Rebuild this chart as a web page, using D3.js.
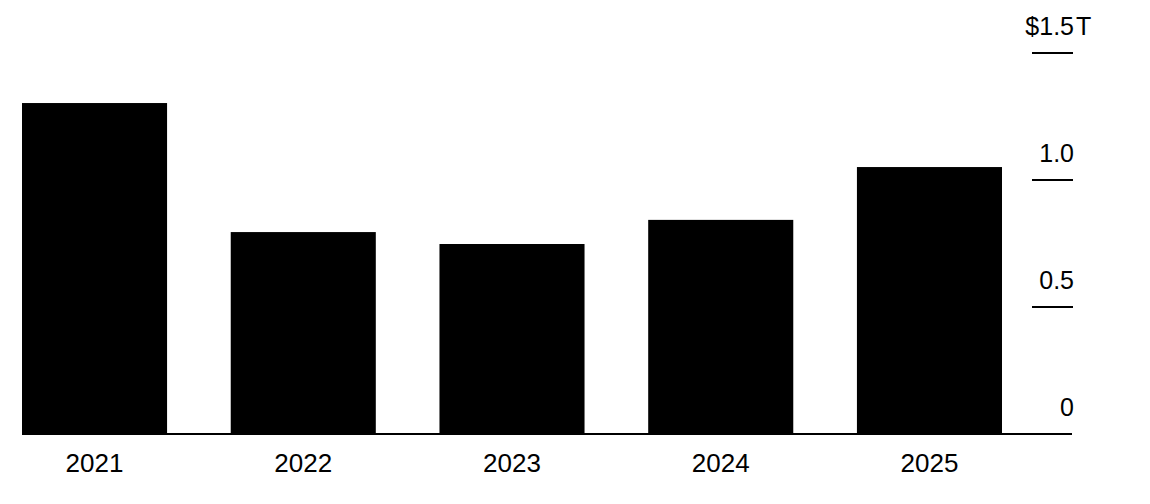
<!DOCTYPE html>
<html>
<head>
<meta charset="utf-8">
<script src="https://cdn.jsdelivr.net/npm/d3@7"></script>
<style>
  body { margin: 0; background: #fff; }
  text { font-family: "Liberation Sans", Arial, sans-serif; fill: #000; }
</style>
</head>
<body>
<script>
var width = 1150,
    height = 504

var years = ["2021", "2022", "2023", "2024", "2025"];
var values = [1.303, 0.795, 0.748, 0.843, 1.051];
var tickValues = [0, 0.5, 1.0, 1.5];
var tickLabels = ["0", "0.5", "1.0", "$1.5"];
var unitSuffix = "T";

var svg = d3.select("body").append("svg")
    .attr("width", width)
    .attr("height", height);

var x = d3.scaleBand()
    .domain(years)
    .range([22, 1002])
    .paddingInner(0.305)
    .paddingOuter(0);

var y = d3.scaleLinear()
    .domain([0, 1.5])
    .range([434, 53]);

// bars
svg.selectAll(".bar").data(values)
  .enter().append("rect")
    .attr("class", "bar")
    .attr("x", function(d, i) { return x(years[i]); })
    .attr("width", x.bandwidth())
    .attr("y", function(d) { return y(d); })
    .attr("height", function(d) { return y(0) - y(d); })
    .attr("fill", "#000");

// baseline
svg.append("line")
    .attr("x1", 22).attr("x2", 1072)
    .attr("y1", y(0)).attr("y2", y(0))
    .attr("stroke", "#000")
    .attr("stroke-width", 2);

// right axis ticks
var ticks = svg.selectAll(".tick").data(tickValues)
  .enter().append("g")
    .attr("class", "tick")
    .attr("transform", function(d) { return "translate(0," + y(d) + ")"; });

ticks.filter(function(d) { return d > 0; })
  .append("line")
    .attr("x1", 1032).attr("x2", 1073)
    .attr("stroke", "#000")
    .attr("stroke-width", 2);

ticks.append("text")
    .attr("x", 1074)
    .attr("y", -18)
    .attr("text-anchor", "end")
    .style("font-size", "25px")
    .text(function(d, i) { return tickLabels[i]; });

// unit on the top label
ticks.filter(function(d) { return d === 1.5; })
  .append("text")
    .attr("x", 1076)
    .attr("y", -18)
    .style("font-size", "25px")
    .text(unitSuffix);

// x labels
svg.selectAll(".year").data(years)
  .enter().append("text")
    .attr("class", "year")
    .attr("x", function(d) { return x(d) + x.bandwidth() / 2; })
    .attr("y", 472)
    .attr("text-anchor", "middle")
    .style("font-size", "26px")
    .text(function(d) { return d; });
</script>
</body>
</html>
